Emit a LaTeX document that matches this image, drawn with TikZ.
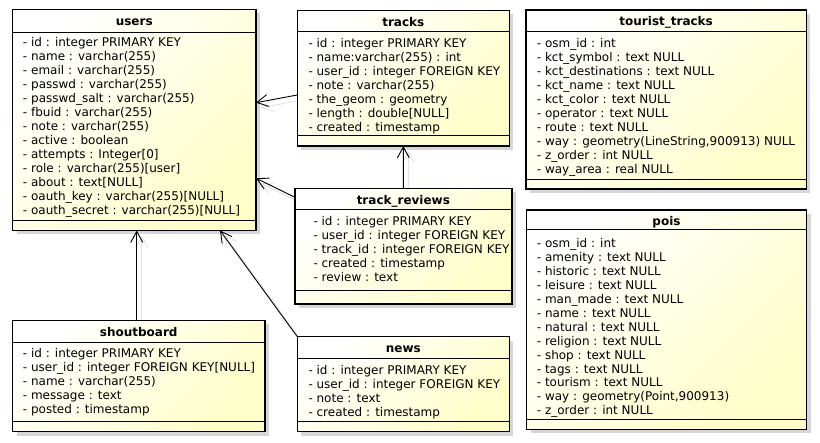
\documentclass[tikz,border=0pt]{standalone}
\usepackage{fontspec}
\setmainfont{DejaVu Sans}
\usetikzlibrary{arrows.meta,calc}
\definecolor{umlyellow}{RGB}{254,254,200}
\definecolor{shadowgray}{RGB}{214,214,214}
\definecolor{connshadow}{RGB}{226,226,226}
\pgfdeclarelayer{shadows}
\pgfdeclarelayer{conn}
\pgfsetlayers{shadows,conn,main}
\tikzset{
  tablebox/.style={draw=black, line width=1.6pt, inner sep=0pt, outer sep=0pt,
    top color=white, bottom color=umlyellow, shading angle=45},
  boxshadow/.style={fill=shadowgray},
  sepline/.style={draw=black, line width=1pt},
  titletext/.style={font=\bfseries\fontsize{12pt}{14pt}\selectfont, inner sep=0pt},
  rowtext/.style={font=\fontsize{12pt}{13.95pt}\selectfont, align=left, inner sep=0pt},
  conn/.style={draw=black, line width=0.9pt, -{Straight Barb[length=11pt,width=12pt]}},
  connsh/.style={draw=connshadow, line width=0.9pt, -{Straight Barb[length=11pt,width=12pt]},
    transform canvas={xshift=5pt,yshift=-5pt}},
}
\def\tbgap{10}
% #1 name, #2 x, #3 y, #4 w, #5 h, #6 title separator offset, #7 text indent, #8 title, #9 rows
\newcommand\mktable[9]{%
  \begin{pgfonlayer}{shadows}
    \fill[boxshadow] (#2+4,#3+4) rectangle (#2+#4+4,#3+#5+4);
  \end{pgfonlayer}
  \node[tablebox, minimum width=#4pt, minimum height=#5pt, anchor=north west] (#1) at (#2,#3) {};
  \draw[sepline] ([yshift=-#6pt]#1.north west) -- ([yshift=-#6pt]#1.north east);
  \draw[sepline] ([yshift=\tbgap pt]#1.south west) -- ([yshift=\tbgap pt]#1.south east);
  \node[titletext, anchor=base] (#1-title) at ([yshift=-16pt]#1.north) {#8};
  \node[rowtext, anchor=north west] (#1-rows) at ([xshift=#7pt,yshift=-27.3pt]#1.north west) {\rule{0pt}{10pt}#9};
}
\begin{document}
\begin{tikzpicture}[x=1pt,y=-1pt]
\useasboundingbox (0,0) rectangle (820,443);
\begin{pgfonlayer}{shadows}
  \fill[white] (0,0) rectangle (820,443);
\end{pgfonlayer}

\mktable{users}{12.5}{9.5}{243.5}{221}{22.8}{10.3}{users}{%
- id : integer PRIMARY KEY\\
- name : varchar(255)\\
- email : varchar(255)\\
- passwd : varchar(255)\\
- passwd\_salt : varchar(255)\\
- fbuid : varchar(255)\\
- note : varchar(255)\\
- active : boolean\\
- attempts : Integer[0]\\
- role : varchar(255)[user]\\
- about : text[NULL]\\
- oauth\_key : varchar(255)[NULL]\\
- oauth\_secret : varchar(255)[NULL]}

\mktable{tracks}{297.3}{10.5}{212}{135.5}{21.2}{11}{tracks}{%
- id : integer PRIMARY KEY\\
- name:varchar(255) : int\\
- user\_id : integer FOREIGN KEY\\
- note : varchar(255)\\
- the\_geom : geometry\\
- length : double[NULL]\\
- created : timestamp}

\def\tbgap{14}
\mktable{treviews}{295}{188.5}{216.7}{115.8}{21.5}{18.3}{track\_reviews}{%
- id : integer PRIMARY KEY\\
- user\_id : integer FOREIGN KEY\\
- track\_id : integer FOREIGN KEY\\
- created : timestamp\\
- review : text}
\def\tbgap{10}

\mktable{tourist}{526}{10}{280.3}{179.3}{21.7}{10.7}{tourist\_tracks}{%
- osm\_id : int\\
- kct\_symbol : text NULL\\
- kct\_destinations : text NULL\\
- kct\_name : text NULL\\
- kct\_color : text NULL\\
- operator : text NULL\\
- route : text NULL\\
- way : geometry(LineString,900913) NULL\\
- z\_order : int NULL\\
- way\_area : real NULL}

\mktable{pois}{526.5}{210}{280}{219.5}{19.3}{10.2}{pois}{%
- osm\_id : int\\
- amenity : text NULL\\
- historic : text NULL\\
- leisure : text NULL\\
- man\_made : text NULL\\
- name : text NULL\\
- natural : text NULL\\
- religion : text NULL\\
- shop : text NULL\\
- tags : text NULL\\
- tourism : text NULL\\
- way : geometry(Point,900913)\\
- z\_order : int NULL}

\mktable{shout}{12.5}{320.5}{252.5}{111.2}{22.2}{10.2}{shoutboard}{%
- id : integer PRIMARY KEY\\
- user\_id : integer FOREIGN KEY[NULL]\\
- name : varchar(255)\\
- message : text\\
- posted : timestamp}

\mktable{news}{297.3}{336.7}{212}{95}{21.6}{11}{news}{%
- id : integer PRIMARY KEY\\
- user\_id : integer FOREIGN KEY\\
- note : text\\
- created : timestamp}

\begin{pgfonlayer}{conn}
  \draw[connsh] ([yshift=-16.75pt]tracks.west) -- ([yshift=17.3pt]users.east);
  \draw[connsh] ([yshift=49.1pt]treviews.west) -- ([yshift=-58.3pt]users.east);
  \draw[connsh] (treviews.north) -- (tracks.south);
  \draw[connsh] ([xshift=-2pt]shout.north) -- ([xshift=-2pt]shout.north |- users.south);
  \draw[connsh] (news.north west) -- ([xshift=85.75pt]users.south);
  \draw[conn] ([yshift=-16.75pt]tracks.west) -- ([yshift=17.3pt]users.east);
  \draw[conn] ([yshift=49.1pt]treviews.west) -- ([yshift=-58.3pt]users.east);
  \draw[conn] (treviews.north) -- (tracks.south);
  \draw[conn] ([xshift=-2pt]shout.north) -- ([xshift=-2pt]shout.north |- users.south);
  \draw[conn] (news.north west) -- ([xshift=85.75pt]users.south);
\end{pgfonlayer}
\end{tikzpicture}
\end{document}
